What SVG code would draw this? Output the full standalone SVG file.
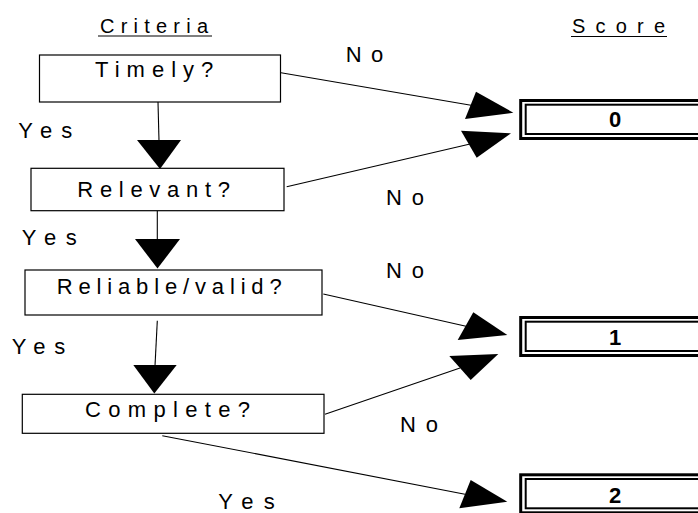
<svg xmlns="http://www.w3.org/2000/svg" width="698" height="513" viewBox="0 0 698 513">
<style>
text{font-family:"Liberation Sans",Arial,sans-serif;fill:#000}
.t{font-size:22px}
.h{font-size:20px}
.l{font-size:22px}
.d{font-size:22px;font-weight:bold;text-anchor:middle}
.box{fill:#fff;stroke:#000;stroke-width:1.2}
.ln{stroke:#000;stroke-width:1.1;fill:none}
.hd{fill:#000;stroke:none}
.ob{fill:#fff;stroke:#000;stroke-width:3}
.ib{fill:none;stroke:#000;stroke-width:2}
</style>
<rect width="698" height="513" fill="#fff"/>
<g id="headers">
<text class="h" x="100" y="32.5" textLength="108" lengthAdjust="spacing">Criteria</text>
<line class="ln" x1="98" y1="36" x2="212" y2="36" stroke-width="1.4"/>
<text class="h" x="572" y="33.3" textLength="93" lengthAdjust="spacing">Score</text>
<line class="ln" x1="571" y1="36.5" x2="667" y2="36.5" stroke-width="1.4"/>
</g>
<g id="connectors">
<line class="ln" x1="158" y1="102" x2="159" y2="141"/>
<polygon class="hd" points="137,140 181,140 160,169"/>
<line class="ln" x1="157.3" y1="211" x2="157.3" y2="240"/>
<polygon class="hd" points="135,239 180,239 157.5,268.5"/>
<line class="ln" x1="157.3" y1="320.7" x2="155" y2="366"/>
<polygon class="hd" points="133.3,365 176.7,365 154.3,393.5"/>
<line class="ln" x1="281" y1="72.7" x2="471" y2="105.3"/>
<polygon class="hd" points="513.3,112.7 476,91.7 465,119"/>
<line class="ln" x1="286.7" y1="186.7" x2="469" y2="144.2"/>
<polygon class="hd" points="511,133.3 461,130.7 476.7,157.7"/>
<line class="ln" x1="323.3" y1="294" x2="466" y2="326.2"/>
<polygon class="hd" points="507.3,335 473.3,312.3 457.7,340"/>
<line class="ln" x1="325" y1="414.3" x2="460" y2="368"/>
<polygon class="hd" points="498.3,354 449.3,356 470.7,380"/>
<line class="ln" x1="162.3" y1="435.7" x2="465" y2="494.2"/>
<polygon class="hd" points="507.3,501.7 470.7,480 459.3,508.3"/>
</g>
<g id="labels">
<text class="l" x="18.3" y="138.3" textLength="54" lengthAdjust="spacing">Yes</text>
<text class="l" x="21.7" y="245" textLength="55" lengthAdjust="spacing">Yes</text>
<text class="l" x="11.7" y="354" textLength="53.5" lengthAdjust="spacing">Yes</text>
<text class="l" x="218.3" y="508.5" textLength="56.5" lengthAdjust="spacing">Yes</text>
<text class="l" x="345.7" y="61.7" textLength="37.5" lengthAdjust="spacing">No</text>
<text class="l" x="386" y="205" textLength="38" lengthAdjust="spacing">No</text>
<text class="l" x="386" y="278" textLength="38" lengthAdjust="spacing">No</text>
<text class="l" x="400" y="431.7" textLength="38" lengthAdjust="spacing">No</text>
</g>
<g id="node-timely">
<rect class="box" x="39.5" y="55" width="241" height="47"/>
<text class="t" x="95" y="77.3" textLength="118.3" lengthAdjust="spacing">Timely?</text>
</g>
<g id="node-relevant">
<rect class="box" x="31" y="168.3" width="253" height="42.4"/>
<text class="t" x="77.3" y="196.7" textLength="152.7" lengthAdjust="spacing">Relevant?</text>
</g>
<g id="node-reliable">
<rect class="box" x="25" y="270" width="297" height="45"/>
<text class="t" x="56.7" y="294.3" textLength="225" lengthAdjust="spacing">Reliable/valid?</text>
</g>
<g id="node-complete">
<rect class="box" x="22.3" y="394.3" width="301.7" height="39"/>
<text class="t" x="85" y="417.3" textLength="165" lengthAdjust="spacing">Complete?</text>
</g>
<g id="score-0">
<rect class="ob" x="520.7" y="100.5" width="200" height="38"/>
<rect class="ib" x="525.7" y="104.7" width="200" height="29.3"/>
<text class="d" x="615" y="127">0</text>
</g>
<g id="score-1">
<rect class="ob" x="520.7" y="317.5" width="200" height="38"/>
<rect class="ib" x="525.7" y="321.7" width="200" height="29.3"/>
<text class="d" x="615" y="345">1</text>
</g>
<g id="score-2">
<rect class="ob" x="520.7" y="474.8" width="200" height="38"/>
<rect class="ib" x="525.7" y="479" width="200" height="29.3"/>
<text class="d" x="615" y="503">2</text>
</g>
</svg>
